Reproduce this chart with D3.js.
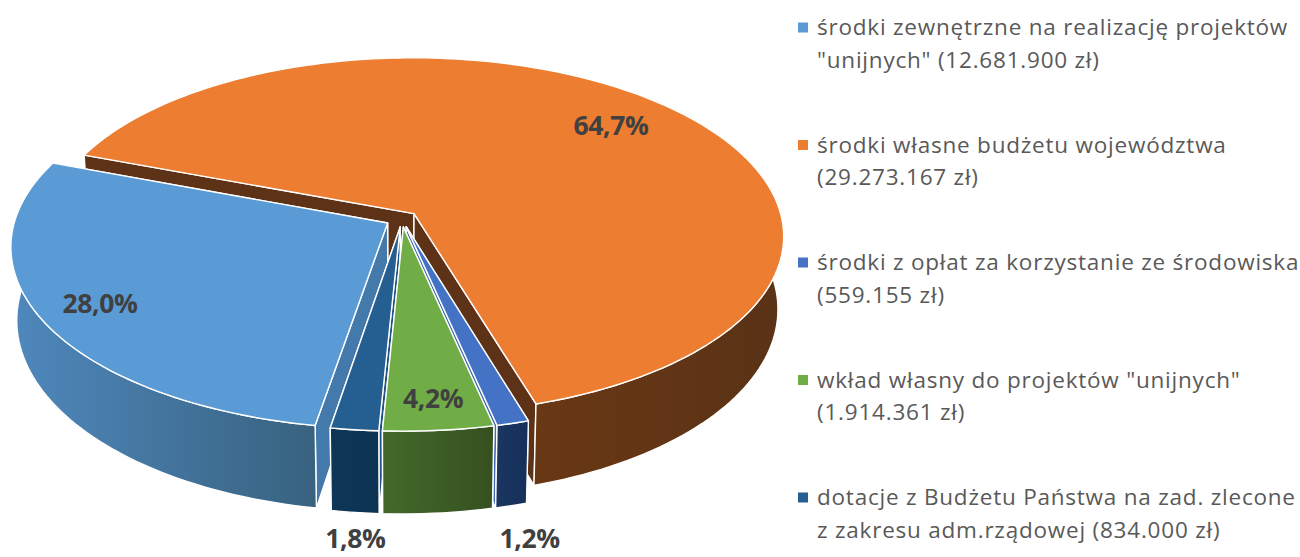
<!DOCTYPE html>
<html><head><meta charset="utf-8">
<script src="https://cdn.jsdelivr.net/npm/d3@7/dist/d3.min.js"></script>
<style>html,body{margin:0;padding:0;background:#fff;overflow:hidden}svg{display:block}</style>
</head><body><svg id="c" width="1300" height="557"></svg>
<script>
const categories = ['środki zewnętrzne na realizację projektów','środki własne budżetu województwa','środki z opłat za korzystanie ze środowiska','wkład własny do projektów "unijnych"','dotacje z Budżetu Państwa na zad. zlecone'];
const secondLines = ['"unijnych" (12.681.900 zł)','(29.273.167 zł)','(559.155 zł)','(1.914.361 zł)','z zakresu adm.rządowej (834.000 zł)'];
const values = [12681900,29273167,559155,1914361,834000];
const percentLabels = ['28,0%','64,7%','1,2%','4,2%','1,8%'];
const topColors = ['#5b9bd5','#ed7d31','#4472c4','#70ad47','#255e91'];
const wallColorsA = ['#4f88bd','#693814','#1a3560','#42692a','#0d3657'];
const wallColorsB = ['#38627f','#5a3216','#15305a','#36501f','#0d3353'];
const faceColors = ['#447aab','#5e3216','#3f69b3','#4f7d33','#1f5383'];
const radiusScale = [1.012,1,1,1,1];
const labelRadii = [0.85,0.79,1.15,0.86,1.0];
const labelDepths = [0,0,0.95,0,1.31];
const drawOrder = [1,0,4,2,3];

const W=1300,H=557;
const cx=402,cy=219,Rx=368,a=176.5,k=0.125,wall=72,conv=0.015,explode=0.045;
const rad=d=>d*Math.PI/180;
const svg=d3.select('#c');
const defs=svg.append('defs');
const pie=d3.pie().sort(null).startAngle(rad(189.5)).endAngle(rad(549.5));
const arcs=pie(values);

function project(th,r,z,mid){
  const u=Math.sin(th)*r+explode*Math.sin(mid), v=-Math.cos(th)*r-explode*Math.cos(mid);
  const s=1/(1-k*v);
  return [cx+Rx*u*s*(1-conv*z), cy+a*v*s+wall*s*z];
}
const line=d3.line();
const samples=(a0,a1)=>{const n=Math.max(2,Math.ceil((a1-a0)/rad(1.5)));return d3.range(n+1).map(i=>a0+(a1-a0)*i/n);};

const slices=svg.selectAll('g.slice').data(drawOrder).join('g').attr('class','slice');
slices.each(function(i){
  const d=arcs[i],g=d3.select(this),mid=(d.startAngle+d.endAngle)/2,R=radiusScale[i];
  const th=samples(d.startAngle,d.endAngle);
  const P=(t,r,z)=>project(t,r*R,z,mid);
  const gid='wg'+i;
  let lastBack=-1; th.forEach((t,j)=>{if(Math.cos(t)>=0.5)lastBack=j;});
  const front=th.slice(lastBack+1);
  const xs=front.map(t=>P(t,1,0)[0]);
  const lg=defs.append('linearGradient').attr('id',gid).attr('gradientUnits','userSpaceOnUse')
    .attr('x1',d3.min(xs)).attr('x2',d3.max(xs)).attr('y1',0).attr('y2',0);
  lg.append('stop').attr('offset',0).attr('stop-color',wallColorsA[i]);
  lg.append('stop').attr('offset',1).attr('stop-color',wallColorsB[i]);
  const stroke=sel=>sel.attr('stroke','#fff').attr('stroke-width',1.4).attr('stroke-linejoin','round');
  [d.startAngle,d.endAngle].sort((p,q)=>Math.cos(q)-Math.cos(p)).forEach(t=>{
    g.append('path').attr('d',line([P(t,0,0),P(t,1,0),P(t,1,1),P(t,0,1)])+'Z').attr('fill',faceColors[i]).call(stroke);
  });
  const wallPts=front.map(t=>P(t,1,0)).concat(front.slice().reverse().map(t=>P(t,1,1)));
  g.append('path').attr('d',line(wallPts)+'Z').attr('fill',`url(#${gid})`).call(stroke);
  const topPts=[P(0,0,0)].concat(th.map(t=>P(t,1,0)));
  g.append('path').attr('d',line(topPts)+'Z').attr('fill',topColors[i]).call(stroke);
});

svg.selectAll('text.pct').data(arcs).join('text').attr('class','pct')
  .each(function(d,i){
    const mid=(d.startAngle+d.endAngle)/2,p=project(mid,labelRadii[i],labelDepths[i],mid);
    d3.select(this).attr('x',p[0]).attr('y',p[1]);
  })
  .attr('text-anchor','middle').attr('dominant-baseline','central')
  .attr('font-family','"Open Sans",sans-serif').attr('font-weight',700).attr('font-size',26.5)
  .attr('letter-spacing',-0.4).attr('fill','#404040').text((d,i)=>percentLabels[i]);

const legendY=d3.scalePoint().domain(d3.range(categories.length)).range([27.5,497.5]);
const leg=svg.selectAll('g.leg').data(categories).join('g').attr('class','leg')
  .attr('transform',(d,i)=>`translate(798,${legendY(i)})`);
leg.append('rect').attr('x',0).attr('y',-5).attr('width',10).attr('height',10).attr('fill',(d,i)=>topColors[i]);
const txt=s=>s.attr('x',19).attr('font-family','"Open Sans",sans-serif').attr('font-size',22.5).attr('fill','#595959').attr('letter-spacing',0.78);
leg.append('text').call(txt).attr('y',7.5).text(d=>d);
leg.append('text').call(txt).attr('y',40).text((d,i)=>secondLines[i]);
</script></body></html>
